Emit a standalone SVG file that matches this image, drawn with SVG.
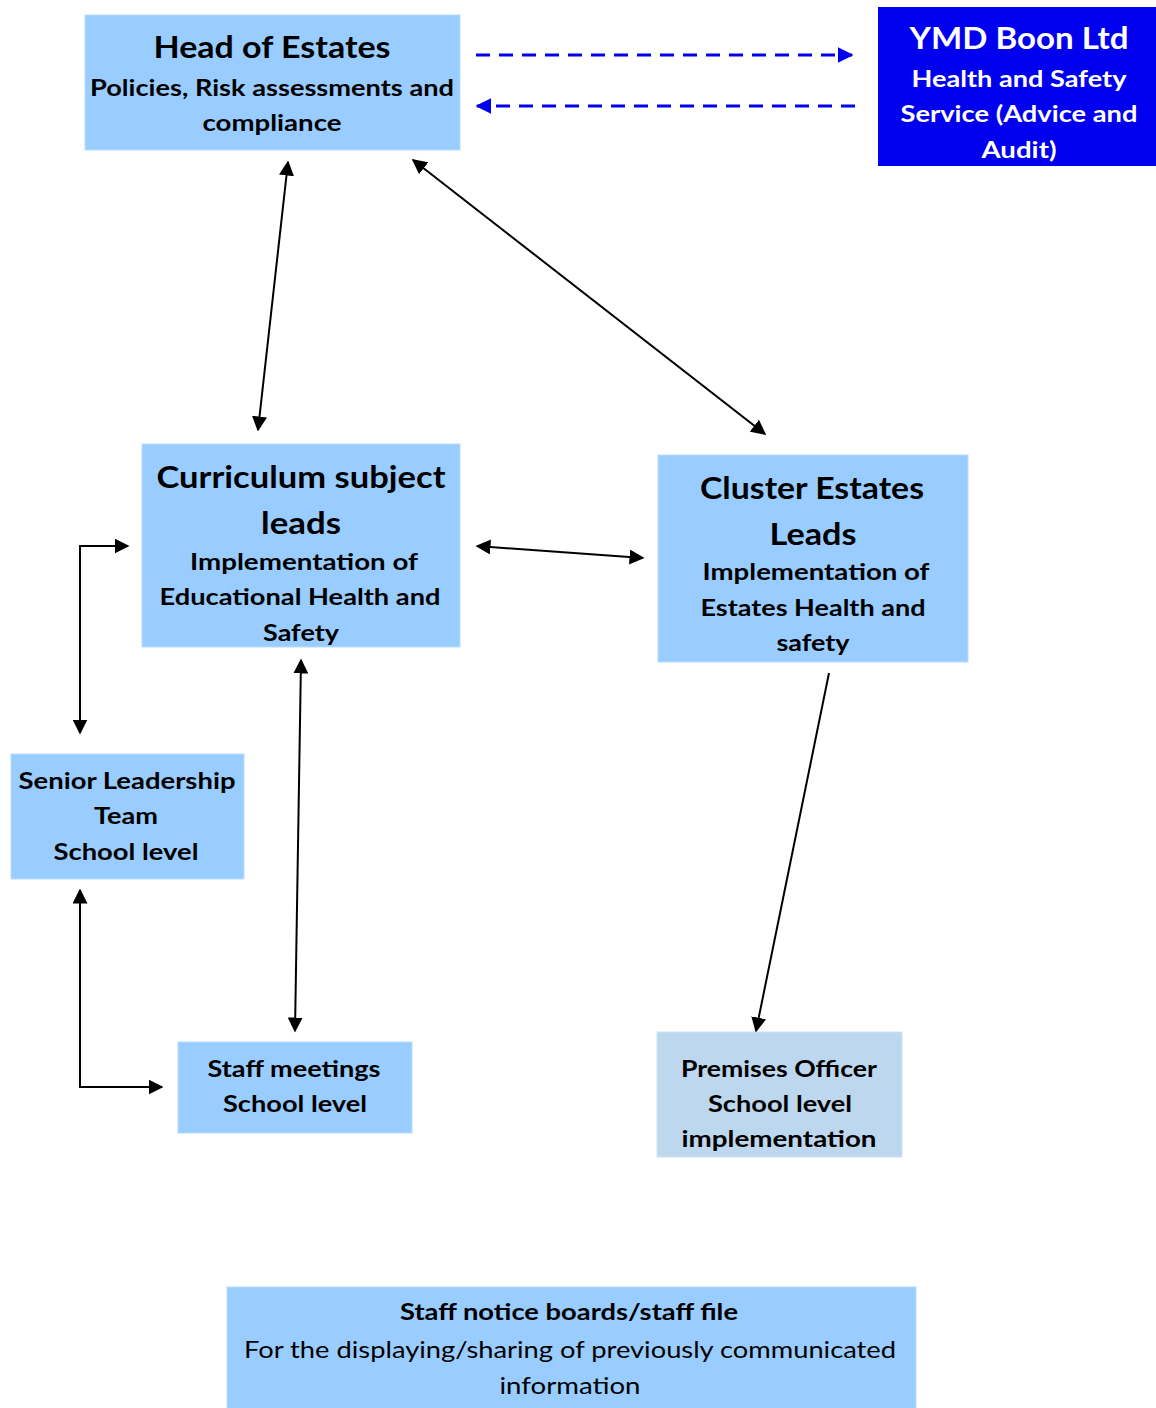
<svg xmlns="http://www.w3.org/2000/svg" width="1156" height="1408" viewBox="0 0 1156 1408">
<defs>
<style>
.box{fill:#99CCFF;stroke:#B8DCFF;stroke-width:1}
.t{font-family:Lato,"Noto Sans","Liberation Sans",sans-serif;font-weight:bold;fill:#000;text-anchor:middle}
.w{fill:#fff}
.n{font-weight:normal}
.s22{font-size:22px}
.s28{font-size:28px}
.s30{font-size:30px}
.c{fill:none;stroke:#000;stroke-width:2}
.d{fill:none;stroke:#0000EE;stroke-width:3;stroke-dasharray:14 9}
</style>
<marker id="ah" viewBox="0 0 10 10" refX="9" refY="5" markerWidth="7.5" markerHeight="7.5" orient="auto-start-reverse" markerUnits="strokeWidth"><path d="M0,0 L10,5 L0,10 z" fill="#000"/></marker>
<marker id="bh" viewBox="0 0 10 10" refX="9" refY="5" markerWidth="5.3" markerHeight="5.3" orient="auto-start-reverse" markerUnits="strokeWidth"><path d="M0,0 L10,5 L0,10 z" fill="#0000EE"/></marker>
</defs>
<rect width="1156" height="1408" fill="#fff"/>

<g id="head-of-estates">
<rect class="box" x="85" y="15" width="375" height="135"/>
<text class="t s30" x="272" y="58" textLength="237" lengthAdjust="spacingAndGlyphs">Head of Estates</text>
<text class="t s22" x="272" y="96" textLength="364" lengthAdjust="spacingAndGlyphs">Policies, Risk assessments and</text>
<text class="t s22" x="272" y="131" textLength="139" lengthAdjust="spacingAndGlyphs">compliance</text>
</g>

<g id="ymd-boon">
<rect x="878" y="7" width="278" height="159" fill="#0000EE"/>
<text class="t w" x="1019" y="49" font-size="30" textLength="219" lengthAdjust="spacingAndGlyphs">YMD Boon Ltd</text>
<text class="t w s22" x="1019" y="87" textLength="215" lengthAdjust="spacingAndGlyphs">Health and Safety</text>
<text class="t w s22" x="1019" y="122" textLength="237" lengthAdjust="spacingAndGlyphs">Service (Advice and</text>
<text class="t w s22" x="1019" y="158" textLength="75" lengthAdjust="spacingAndGlyphs">Audit)</text>
</g>

<g id="curriculum-leads">
<rect class="box" x="142" y="444" width="318" height="203"/>
<text class="t s30" x="301" y="488" textLength="289" lengthAdjust="spacingAndGlyphs">Curriculum subject</text>
<text class="t s30" x="301" y="534" textLength="80" lengthAdjust="spacingAndGlyphs">leads</text>
<text class="t s22" x="304" y="570" textLength="228" lengthAdjust="spacingAndGlyphs">Implementation of</text>
<text class="t s22" x="300" y="605" textLength="281" lengthAdjust="spacingAndGlyphs">Educational Health and</text>
<text class="t s22" x="301" y="641" textLength="76" lengthAdjust="spacingAndGlyphs">Safety</text>
</g>

<g id="cluster-estates-leads">
<rect class="box" x="658" y="455" width="310" height="207"/>
<text class="t s30" x="812" y="499" textLength="224" lengthAdjust="spacingAndGlyphs">Cluster Estates</text>
<text class="t s30" x="813" y="545" textLength="87" lengthAdjust="spacingAndGlyphs">Leads</text>
<text class="t s22" x="816" y="580" textLength="227" lengthAdjust="spacingAndGlyphs">Implementation of</text>
<text class="t s22" x="813" y="616" textLength="225" lengthAdjust="spacingAndGlyphs">Estates Health and</text>
<text class="t s22" x="813" y="651" textLength="73" lengthAdjust="spacingAndGlyphs">safety</text>
</g>

<g id="senior-leadership-team">
<rect class="box" x="11" y="754" width="233" height="125"/>
<text class="t s22" x="127" y="789" textLength="217" lengthAdjust="spacingAndGlyphs">Senior Leadership</text>
<text class="t s22" x="126" y="824" textLength="64" lengthAdjust="spacingAndGlyphs">Team</text>
<text class="t s22" x="126" y="860" textLength="145" lengthAdjust="spacingAndGlyphs">School level</text>
</g>

<g id="staff-meetings">
<rect class="box" x="178" y="1042" width="234" height="91"/>
<text class="t s22" x="294" y="1077" textLength="173" lengthAdjust="spacingAndGlyphs">Staff meetings</text>
<text class="t s22" x="295" y="1112" textLength="144" lengthAdjust="spacingAndGlyphs">School level</text>
</g>

<g id="premises-officer">
<rect x="657" y="1032" width="245" height="125" fill="#BDD7EE" stroke="#D0E3F4" stroke-width="1"/>
<text class="t s22" x="779" y="1077" textLength="196" lengthAdjust="spacingAndGlyphs">Premises Officer</text>
<text class="t s22" x="780" y="1112" textLength="144" lengthAdjust="spacingAndGlyphs">School level</text>
<text class="t s22" x="779" y="1147" textLength="195" lengthAdjust="spacingAndGlyphs">implementation</text>
</g>

<g id="staff-notice-boards">
<rect class="box" x="227" y="1287" width="689" height="125"/>
<text class="t s22" x="569" y="1320" textLength="338" lengthAdjust="spacingAndGlyphs">Staff notice boards/staff file</text>
<text class="t n" x="570" y="1358" font-size="24" textLength="652" lengthAdjust="spacingAndGlyphs">For the displaying/sharing of previously communicated</text>
<text class="t n" x="570" y="1394" font-size="24" textLength="141" lengthAdjust="spacingAndGlyphs">information</text>
</g>

<g id="connectors">
<line class="d" x1="476" y1="55" x2="852" y2="55" marker-end="url(#bh)"/>
<line class="d" x1="855" y1="106" x2="477" y2="106" marker-end="url(#bh)"/>
<line class="c" x1="288" y1="162" x2="258" y2="430" stroke="#333" marker-start="url(#ah)" marker-end="url(#ah)"/>
<line class="c" x1="413" y1="160" x2="765" y2="434" marker-start="url(#ah)" marker-end="url(#ah)"/>
<line class="c" x1="477" y1="546" x2="643" y2="558" marker-start="url(#ah)" marker-end="url(#ah)"/>
<polyline class="c" points="128,546 80,546 80,733" marker-start="url(#ah)" marker-end="url(#ah)"/>
<polyline class="c" points="80,890 80,1087 162,1087" marker-start="url(#ah)" marker-end="url(#ah)"/>
<line class="c" x1="301" y1="660" x2="295" y2="1031" marker-start="url(#ah)" marker-end="url(#ah)"/>
<line class="c" x1="829" y1="673" x2="756" y2="1031" marker-end="url(#ah)"/>
</g>
</svg>
